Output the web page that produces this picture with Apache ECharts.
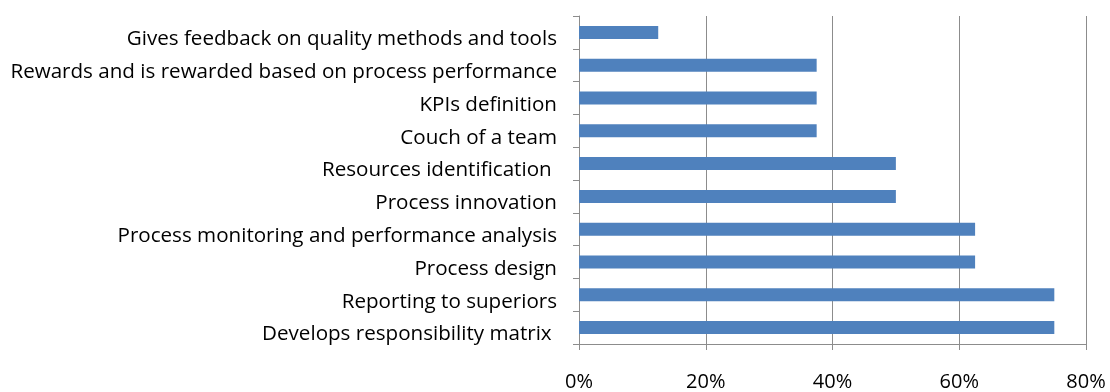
<!DOCTYPE html>
<html>
<head>
<meta charset="utf-8">
<script src="https://cdn.jsdelivr.net/npm/echarts@6/dist/echarts.min.js"></script>
<style>
  html, body { margin: 0; padding: 0; background: #fff; }
  #chart { width: 1110px; height: 392px; }
</style>
</head>
<body>
<div id="chart"></div>
<script>
// Categories listed bottom to top (category axis starts at the bottom)
let categories = [
  "Develops responsibility matrix ",
  "Reporting to superiors",
  "Process design",
  "Process monitoring and performance analysis",
  "Process innovation",
  "Resources identification ",
  "Couch of a team",
  "KPIs definition",
  "Rewards and is rewarded based on process performance",
  "Gives feedback on quality methods and tools"
];
let shares = [0.75, 0.75, 0.625, 0.625, 0.5, 0.5, 0.375, 0.375, 0.375, 0.125];
let xTicks = [0, 0.2, 0.4, 0.6, 0.8];

let chart = echarts.init(document.getElementById("chart"));

chart.setOption({
  animation: false,
  grid: { left: 579, right: 24, top: 16, bottom: 43, containLabel: false },
  xAxis: {
    type: "value",
    min: xTicks[0],
    max: xTicks[xTicks.length - 1],
    interval: 0.2,
    axisLine: { show: true, lineStyle: { color: "#8c8c8c", width: 1 } },
    axisTick: { show: true, length: 6, lineStyle: { color: "#8c8c8c" } },
    splitLine: { show: true, lineStyle: { color: "#8c8c8c", width: 1 } },
    axisLabel: {
      margin: 28,
      color: "#000",
      fontFamily: "Open Sans",
      fontSize: 20,
      formatter: (v) => Math.round(v * 100) + "%"
    }
  },
  yAxis: {
    type: "category",
    data: categories,
    axisLine: { show: true, lineStyle: { color: "#8c8c8c", width: 1 } },
    axisTick: { show: true, length: 6, lineStyle: { color: "#8c8c8c" } },
    axisLabel: {
      margin: 22,
      color: "#000",
      fontFamily: "Open Sans",
      fontSize: 20.6,
      lineHeight: 20,
      align: "right",
      // labels sit a little below the bar centres in the source picture
      verticalAlign: "top",
      padding: [-3, 0, 0, 0]
    }
  },
  series: [{
    type: "bar",
    data: shares,
    barWidth: 13,
    itemStyle: { color: "#4f81bd" }
  }]
});
</script>
</body>
</html>
